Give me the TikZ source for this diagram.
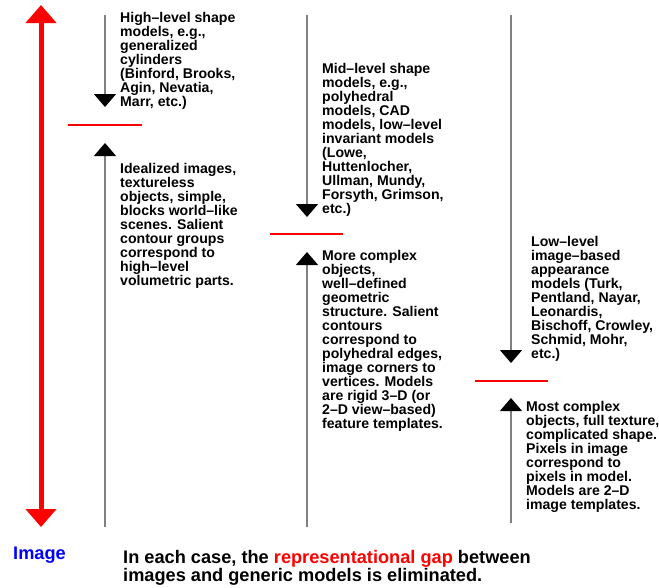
\documentclass[tikz,border=0pt]{standalone}
\usepackage{fontspec}
\setmainfont{Liberation Sans}
\usetikzlibrary{arrows.meta,positioning}

\begin{document}
\begin{tikzpicture}[x=1pt, y=-1pt,
    txt/.style={anchor=north west, inner sep=0pt, align=left,
        font=\fontsize{14.1}{14}\selectfont\bfseries},
    big/.style={font=\fontsize{18.2}{17.5}\selectfont\bfseries},
    level/.style={draw=gray, line width=1.3pt,
        -{Triangle[width=22pt,length=13pt,color=black]}},
    gap/.style={draw=red, line width=2.2pt},
    axis/.style={draw=red, line width=5pt,
        {Triangle[width=30pt,length=18pt]}-{Triangle[width=30pt,length=18pt]}}]
    \useasboundingbox (0,0) rectangle (659,587);

    % image <-> model axis
    \coordinate (Top) at (41,5);
    \coordinate (Bot) at (41,527);
    \draw[axis] (Bot) -- (Top);

    % three levels
    \coordinate (Ht) at (105,15);   \coordinate (Hd) at (105,107);
    \coordinate (Hb) at (105,527);  \coordinate (Hu) at (105,143);
    \coordinate (Mt) at (307,15);   \coordinate (Md) at (307,217);
    \coordinate (Mb) at (307,527);  \coordinate (Mu) at (307,252);
    \coordinate (Lt) at (511,15);   \coordinate (Ld) at (511,363);
    \coordinate (Lb) at (511,523);  \coordinate (Lu) at (511,398);

    \draw[level] (Ht) -- (Hd);
    \draw[level] (Hb) -- (Hu);
    \draw[level] (Mt) -- (Md);
    \draw[level] (Mb) -- (Mu);
    \draw[level] (Lt) -- (Ld);
    \draw[level] (Lb) -- (Lu);

    \draw[gap] (68,125) -- (142,125);
    \draw[gap] (270,234) -- (343,234);
    \draw[gap] (475,381) -- (548,381);

    \node[txt] (Hmodel) at (120,12) {High–level shape\\models, e.g.,\\generalized\\cylinders\\(Binford, Brooks,\\Agin, Nevatia,\\Marr, etc.)};
    \node[txt] (Himage) at (120,163) {Idealized images,\\textureless\\objects, simple,\\blocks world–like\\scenes. Salient\\contour groups\\correspond to\\high–level\\volumetric parts.};
    \node[txt] (Mmodel) at (322,63.5) {Mid–level shape\\models, e.g.,\\polyhedral\\models, CAD\\models, low–level\\invariant models\\(Lowe,\\Huttenlocher,\\Ullman, Mundy,\\Forsyth, Grimson,\\etc.)};
    \node[txt] (Mimage) at (322,250.5) {More complex\\objects,\\well–defined\\geometric\\structure. Salient\\contours\\correspond to\\polyhedral edges,\\image corners to\\vertices. Models\\are rigid 3–D (or\\2–D view–based)\\feature templates.};
    \node[txt] (Lmodel) at (531,236.5) {Low–level\\image–based\\appearance\\models (Turk,\\Pentland, Nayar,\\Leonardis,\\Bischoff, Crowley,\\Schmid, Mohr,\\etc.)};
    \node[txt] (Limage) at (526,401.5) {Most complex\\objects, full texture,\\complicated shape.\\Pixels in image\\correspond to\\pixels in model.\\Models are 2–D\\image templates.};

    \node[big, text=blue, anchor=base west, inner sep=0pt] (Image) at (13,559) {Image};
    \node[big, anchor=north west, inner sep=0pt, align=left] (Note) at (123,550.5)
        {In each case, the \textcolor{red}{representational gap} between\\images and generic models is eliminated.};
\end{tikzpicture}
\end{document}
